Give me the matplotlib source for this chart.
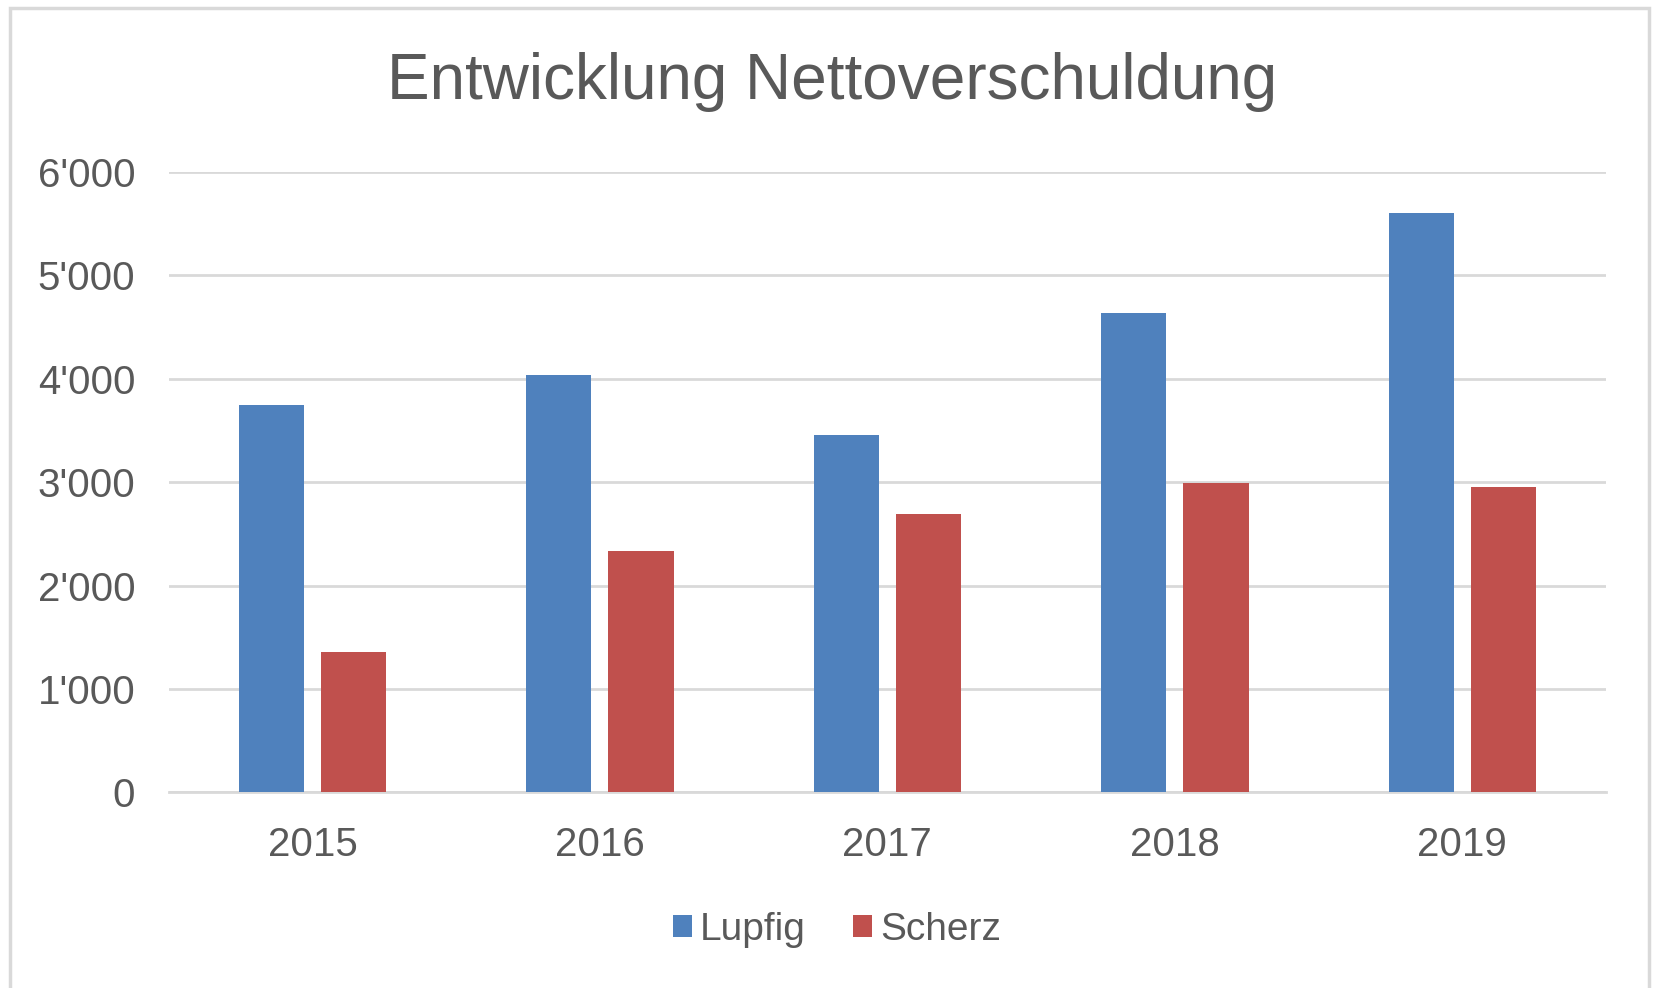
import numpy as np
import matplotlib.pyplot as plt
from matplotlib.patches import Rectangle
from matplotlib.ticker import FuncFormatter

# data
years = ["2015", "2016", "2017", "2018", "2019"]
lupfig = [3750, 4040, 3460, 4640, 5600]
scherz = [1360, 2330, 2690, 2990, 2950]
series_names = ["Lupfig", "Scherz"]

blue = "#4F81BD"
red = "#C0504D"
text_col = "#595959"
grid_col = "#D9D9D9"

plt.rcParams["font.family"] = ["Liberation Sans", "DejaVu Sans"]

fig = plt.figure(figsize=(16.54, 9.88), dpi=100)
ax = fig.add_axes([0.102, 0.198, 0.869, 0.628])

# chart border
fig.patches.append(Rectangle((0.006, -0.01), 0.991, 1.002, transform=fig.transFigure,
                             fill=False, edgecolor="#D9D9D9", linewidth=2.5))

x = np.arange(len(years))
w = 0.227
off = 0.143
ax.bar(x - off, lupfig, w, color=blue, label=series_names[0], zorder=3)
ax.bar(x + off, scherz, w, color=red, label=series_names[1], zorder=3)

ax.set_xlim(-0.5, len(years) - 0.5)
ax.set_ylim(0, 6000)
ax.set_yticks(range(0, 6001, 1000))
ax.yaxis.set_major_formatter(FuncFormatter(lambda v, p: f"{int(v):,}".replace(",", "'")))
ax.set_xticks(x)
ax.set_xticklabels(years)

ax.grid(axis="y", color=grid_col, linewidth=2, zorder=0)
for s in ["top", "right", "left"]:
    ax.spines[s].set_visible(False)
ax.spines["bottom"].set_color(grid_col)
ax.spines["bottom"].set_linewidth(2)
ax.tick_params(axis="both", length=0, labelsize=29, colors=text_col)
ax.tick_params(axis="y", pad=24)
ax.tick_params(axis="x", pad=24)

fig.text(0.503, 0.917, "Entwicklung Nettoverschuldung", ha="center", va="center",
         fontsize=46, color=text_col)

leg = fig.legend(loc="center", bbox_to_anchor=(0.506, 0.059), ncol=2, frameon=False,
                 fontsize=28, handlelength=0.5, handleheight=0.5, handletextpad=0.2,
                 columnspacing=1.2)
for t in leg.get_texts():
    t.set_color(text_col)

fig.savefig("out.png", dpi=100)
